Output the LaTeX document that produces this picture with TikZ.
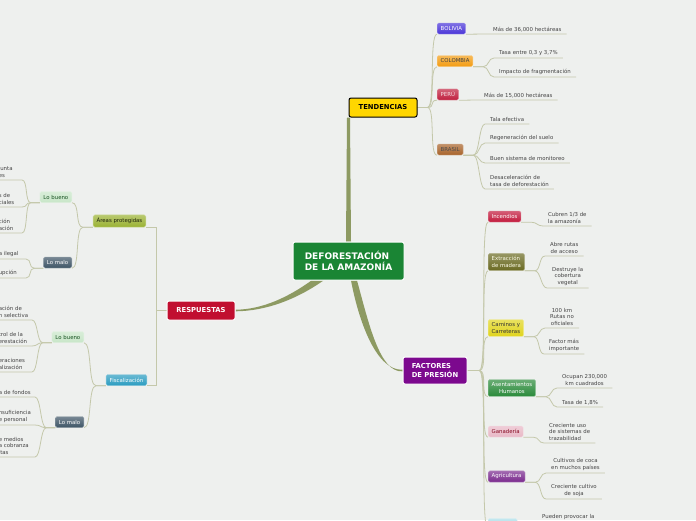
\documentclass[tikz,border=0pt]{standalone}
\usepackage{fontspec}
\setmainfont{DejaVu Sans}
\usetikzlibrary{calc,backgrounds}
\definecolor{mapbg}{RGB}{238,240,238}
\definecolor{trunkcol}{RGB}{141,154,98}
\definecolor{twigcol}{RGB}{196,200,170}
\definecolor{leaftext}{RGB}{68,68,68}
\definecolor{coregreen}{RGB}{26,133,52}
\definecolor{tendyellow}{RGB}{255,214,0}
\definecolor{respred}{RGB}{193,15,48}
\definecolor{factpurple}{RGB}{124,9,142}
\definecolor{bolblue}{RGB}{74,53,216}
\definecolor{colorange}{RGB}{243,156,18}
\definecolor{perred}{RGB}{192,32,62}
\definecolor{brabrown}{RGB}{168,99,42}
\definecolor{incred}{RGB}{194,26,60}
\definecolor{extolive}{RGB}{106,106,34}
\definecolor{camyellow}{RGB}{224,212,28}
\definecolor{asegreen}{RGB}{42,138,58}
\definecolor{ganpink}{RGB}{232,184,198}
\definecolor{agrpurple}{RGB}{122,42,142}
\definecolor{hidblue}{RGB}{168,221,232}
\definecolor{areasolive}{RGB}{154,178,50}
\definecolor{fiscteal}{RGB}{42,156,192}
\definecolor{goodgreen}{RGB}{200,230,200}
\definecolor{badslate}{RGB}{62,85,102}
\newcommand\leaffont{\fontsize{5.4}{6.8}\selectfont}

\begin{document}
\begin{tikzpicture}[
  x=1pt, y=-1pt,
  core/.style={fill=coregreen, draw=white, line width=1pt, rounded corners=2pt, text=white,
    font=\bfseries\fontsize{9}{11}\selectfont, align=left, minimum width=111pt, minimum height=38pt},
  topic/.style={draw=white, line width=1pt, rounded corners=2pt, text=white,
    font=\bfseries\fontsize{6.8}{8.5}\selectfont, align=left, minimum width=68pt, minimum height=19pt},
  sub/.style={top color=#1!70!white, bottom color=#1, draw=#1!50!white, line width=0.4pt,
    rounded corners=1.5pt, font=\leaffont, inner xsep=3.5pt, inner ysep=3pt, minimum height=11pt, align=center},
  leaf/.style={anchor=south west, text=leaftext, font=\leaffont, inner xsep=5pt, inner ysep=2pt, align=left},
  cleaf/.style={leaf, align=center},
  lleaf/.style={anchor=south east, text=leaftext, font=\leaffont, inner xsep=0pt, inner ysep=2pt,
    align=left, text width=#1},
  twig/.style={draw=twigcol, line width=0.8pt},
  trunk/.style={fill=trunkcol}
]
  \useasboundingbox (0,0) rectangle (696,520);
  \begin{scope}[on background layer]
    \fill[mapbg] (0,0) rectangle (696,520);
  \end{scope}

  % centre and main topics
  \node[core] (core) at (348.5,261) {DEFORESTACIÓN\\DE LA AMAZONÍA};
  \node[topic, fill=tendyellow, draw=black, text=black] (tend) at (383,107.5) {TENDENCIAS};
  \node[topic, fill=respred] (resp) at (201,310.5) {RESPUESTAS};
  \node[topic, fill=factpurple, minimum width=64pt, minimum height=27pt] (fact) at (435,370.5) {FACTORES\\DE PRESIÓN};

  % tendencias
  \node[sub=bolblue, text=white, anchor=west] (bol) at (437,28.5) {BOLIVIA};
  \node[sub=colorange, text=black!75, anchor=west] (col) at (437,61) {COLOMBIA};
  \node[sub=perred, text=white!85!perred, anchor=west] (per) at (437,94.5) {PERÚ};
  \node[sub=brabrown, text=black!70, anchor=west] (bra) at (437,149.5) {BRASIL};
  \node[leaf] (bol1) at (488,34) {Más de 36,000 hectáreas};
  \node[leaf] (col1) at (494,58) {Tasa entre 0,3 y 3,7\%};
  \node[leaf] (col2) at (494,77) {Impacto de fragmentación};
  \node[leaf] (per1) at (479,100) {Más de 15,000 hectáreas};
  \node[leaf] (bra1) at (485,124) {Tala efectiva};
  \node[leaf] (bra2) at (485,143) {Regeneración del suelo};
  \node[leaf] (bra3) at (485,163) {Buen sistema de monitoreo};
  \node[leaf] (bra4) at (485,189) {Desaceleración de\\tasa de deforestación};

  % factores de presion
  \node[sub=incred, text=white, anchor=west] (inc) at (488,216.5) {Incendios};
  \node[sub=extolive, text=yellow!8!white, anchor=west, align=left] (ext) at (488,262) {Extracción\\de madera};
  \node[sub=camyellow, text=black!80, anchor=west, align=left] (cam) at (488,328) {Caminos y\\Carreteras};
  \node[sub=asegreen, text=white, anchor=west] (ase) at (488,388) {Asentamientos\\Humanos};
  \node[sub=ganpink, text=respred!70!black, anchor=west] (gan) at (488,431.5) {Ganadería};
  \node[sub=agrpurple, text=white, anchor=west] (agr) at (488,476.5) {Agricultura};
  \node[sub=hidblue, anchor=west, minimum width=29pt] (hid) at (488,524) {};
  \node[leaf] (inc1) at (543,226) {Cubren 1/3 de\\la amazonía};
  \node[cleaf] (ext1) at (545,256) {Abre rutas\\de acceso};
  \node[cleaf] (ext2) at (547,288) {Destruye la\\cobertura\\vegetal};
  \node[cleaf] (cam1) at (545,328) {100 km\\Rutas no\\oficiales};
  \node[leaf] (cam2) at (544,354) {Factor más\\importante};
  \node[cleaf] (ase1) at (557,388) {Ocupan 230,000\\km cuadrados};
  \node[leaf] (ase2) at (557,407) {Tasa de 1,8\%};
  \node[leaf] (gan1) at (544,443) {Creciente uso\\de sistemas de\\trazabilidad};
  \node[cleaf] (agr1) at (546,473) {Cultivos de coca\\en muchos países};
  \node[cleaf] (agr2) at (546,499) {Creciente cultivo\\de soja};
  \node[cleaf] (hid1) at (537,522) {Pueden provocar la};

  % respuestas
  \node[sub=areasolive, text=black!80!areasolive, anchor=east] (areas) at (146,221) {Áreas protegidas};
  \node[sub=fiscteal, text=white, anchor=east] (fisc) at (147,380) {Fiscalización};
  \node[sub=goodgreen, text=asegreen!60!black, anchor=east] (ab) at (72,197) {Lo bueno};
  \node[sub=badslate, text=white, anchor=east] (am) at (72,262.5) {Lo malo};
  \node[sub=goodgreen, text=asegreen!60!black, anchor=east] (fb) at (84,337) {Lo bueno};
  \node[sub=badslate, text=white, anchor=east] (fm) at (84,422) {Lo malo};
  \node[lleaf=23pt] (ab1) at (22,180) {junta\\es};
  \node[lleaf=23pt] (ab2) at (22,207) {s de\\ciales};
  \node[lleaf=23pt] (ab3) at (22,233) {ción\\ación};
  \node[lleaf=27pt] (am1) at (26,259) {a ilegal};
  \node[lleaf=27pt] (am2) at (26,278) {upción};
  \node[lleaf=33pt] (fb1) at (32,320) {ación de\\n selectiva};
  \node[lleaf=33pt] (fb2) at (32,346) {trol de la\\erestación};
  \node[lleaf=33pt] (fb3) at (32,372) {eraciones\\alización};
  \node[lleaf=36pt] (fm1) at (35,397) {a de fondos};
  \node[lleaf=36pt] (fm2) at (35,425) {nsuficiencia\\e personal};
  \node[lleaf=36pt] (fm3) at (35,457) {e medios\\a cobranza\\ltas};

  \begin{scope}[on background layer]
    % main branches
    \fill[trunk] ($(core.north)+(-2.5,0)$) -- ($(tend.south west)+(-1.5,0)$)
      -- ($(tend.south west)+(1.5,0)$) -- ($(core.north)+(2.5,0)$) -- cycle;
    \fill[trunk] ($(core.south)+(-37,0)$) .. controls ($(resp.east)+(53,-13.5)$) and ($(resp.east)+(27,-1)$) .. ($(resp.east)+(0,-0.8)$)
      -- ($(resp.east)+(0,0.8)$) .. controls ($(resp.east)+(30,0.5)$) and ($(resp.east)+(60,-10.5)$) .. ($(core.south)+(-25,0)$) -- cycle;
    \fill[trunk] ($(core.south)+(2.5,0)$) .. controls ($(fact.west)+(-43,-45.5)$) and ($(fact.west)+(-25,0.5)$) .. ($(fact.west)+(0,-0.8)$)
      -- ($(fact.west)+(0,0.8)$) .. controls ($(fact.west)+(-23,2.5)$) and ($(fact.west)+(-34,-48.5)$) .. ($(core.south)+(8.5,0)$) -- cycle;

    % tendencias
    \foreach \k in {bol,col,per,bra}
      \draw[twig] (tend.east) -- ++(10,0) to[out=0,in=180,distance=8pt] (\k.south west);
    \foreach \p/\k in {bol/bol1,per/per1}
      \draw[twig] (\p.south east) to[out=0,in=180,distance=8pt] (\k.south west) -- (\k.south east);
    \foreach \p/\k in {col/col1,col/col2,bra/bra1,bra/bra2,bra/bra3,bra/bra4}
      \draw[twig] (\p.south east) -- ++(10,0) to[out=0,in=180,distance=6pt] (\k.south west) -- (\k.south east);

    % factores de presion
    \foreach \k in {inc,ext,cam,ase,gan,agr,hid}
      \draw[twig] (fact.east) -- ++(12,0) to[out=0,in=180,distance=8pt] (\k.south west);
    \foreach \p/\k in {inc/inc1,ext/ext1,ext/ext2,cam/cam1,cam/cam2,ase/ase1,ase/ase2,gan/gan1,agr/agr1,agr/agr2,hid/hid1}
      \draw[twig] (\p.south east) -- ++(10,0) to[out=0,in=180,distance=6pt] (\k.south west) -- (\k.south east);

    % respuestas
    \foreach \k in {areas,fisc}
      \draw[twig] (resp.west) -- ++(-10,0) |- (\k.south east);
    \foreach \k in {ab,am}
      \draw[twig] (areas.south west) -- ++(-10,0) to[out=180,in=0,distance=8pt] (\k.south east);
    \foreach \k in {fb,fm}
      \draw[twig] (fisc.south west) -- ++(-10,0) to[out=180,in=0,distance=8pt] (\k.south east);
    \foreach \p/\k in {ab/ab1,ab/ab2,ab/ab3,am/am1,am/am2,fb/fb1,fb/fb2,fb/fb3,fm/fm1,fm/fm2,fm/fm3}
      \draw[twig] (\p.south west) -- ++(-9,0) to[out=180,in=0,distance=6pt] (\k.south east) -- (\k.south west);
  \end{scope}
\end{tikzpicture}
\end{document}
